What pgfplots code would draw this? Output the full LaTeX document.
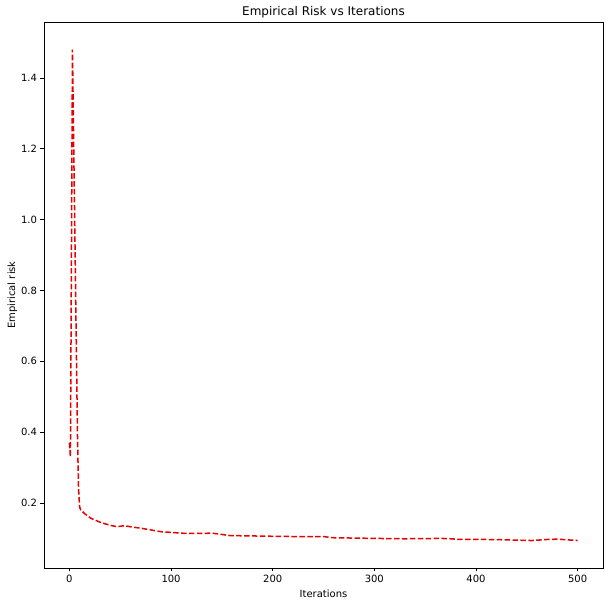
\documentclass[border=0pt]{standalone}
\usepackage{fontspec}
\setmainfont{DejaVu Sans}
\usepackage{pgfplots}
\pgfplotsset{compat=1.18}

\definecolor{riskred}{RGB}{230,0,0}

\begin{document}
\begin{tikzpicture}
\begin{axis}[%
name=ax,
width=559pt,
height=546pt,
scale only axis,
xmin=-25,
xmax=525,
ymin=0.0165,
ymax=1.558,
xtick={0,100,...,500},
ytick={0.2,0.4,...,1.4},
yticklabel style={/pgf/number format/.cd,fixed,fixed zerofill,precision=1},
/pgf/number format/assume math mode=true,
tick align=outside,
tick pos=left,
major tick length=3.5pt,
axis line style={line width=0.8pt},
tick style={line width=0.8pt,black},
ticklabel style={font=\fontsize{10}{12}\selectfont},
xlabel={Iterations},
ylabel={Empirical risk},
label style={font=\fontsize{10}{12}\selectfont},
ylabel style={yshift=-3pt},
title={Empirical Risk vs Iterations},
title style={font=\fontsize{12}{14}\selectfont,yshift=-6pt},
]
\addplot [color=riskred,line width=1.5pt,dash pattern=on 5.5pt off 2.4pt]
  table[row sep=crcr]{0	0.37\\
1	0.33\\
2	0.90\\
3	1.48\\
4	1.26\\
5	1.04\\
6	0.82\\
7	0.60\\
8	0.38\\
9	0.24\\
10	0.19\\
11	0.181\\
15	0.170\\
21	0.157\\
30	0.146\\
40	0.137\\
47	0.133\\
54	0.136\\
60	0.133\\
72	0.128\\
80	0.124\\
90	0.119\\
100	0.117\\
115	0.114\\
130	0.114\\
140	0.115\\
148	0.112\\
158	0.108\\
180	0.107\\
201	0.106\\
230	0.105\\
251	0.105\\
258	0.102\\
280	0.101\\
301	0.100\\
330	0.099\\
366	0.100\\
375	0.099\\
385	0.097\\
410	0.097\\
430	0.096\\
455	0.094\\
470	0.097\\
480	0.098\\
490	0.096\\
500	0.094\\
};
\end{axis}
\pgfresetboundingbox
\useasboundingbox ([shift={(-44pt,-36pt)}]ax.south west) rectangle ([shift={(9pt,22pt)}]ax.north east);
\end{tikzpicture}
\end{document}
